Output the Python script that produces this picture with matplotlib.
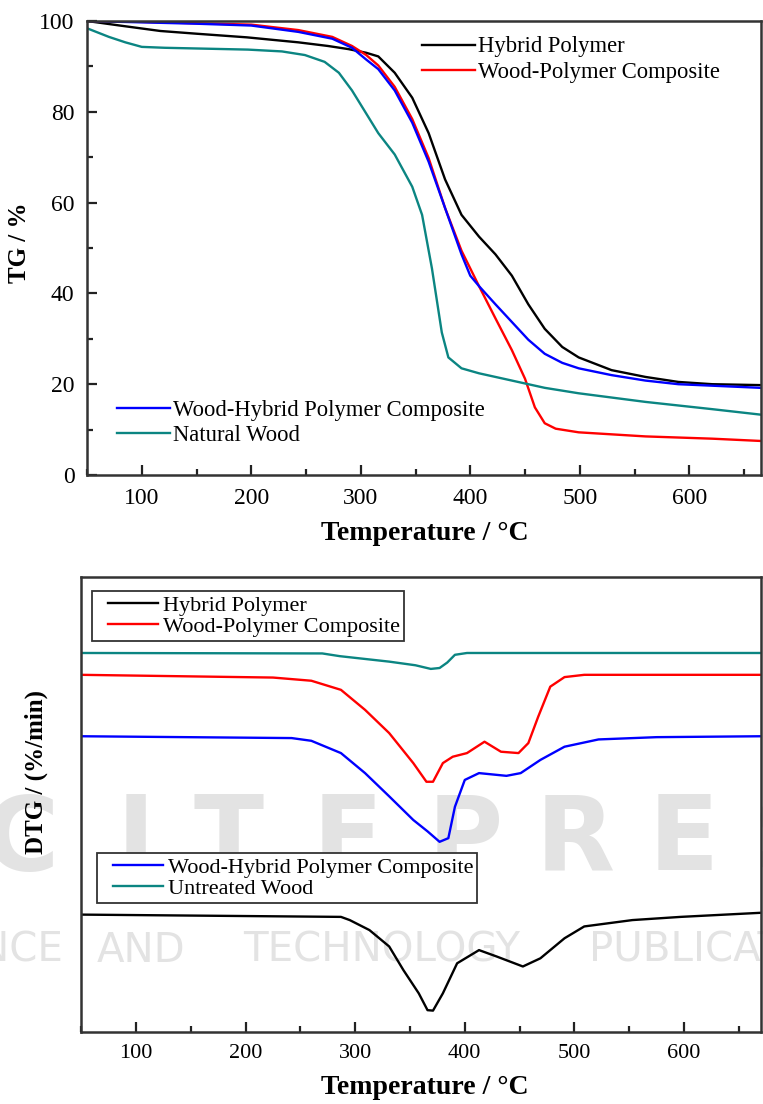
import matplotlib
matplotlib.use('Agg')
import matplotlib.pyplot as plt
from matplotlib.ticker import MultipleLocator
from matplotlib.lines import Line2D
from matplotlib.legend_handler import HandlerLine2D

# ---------------- data: TG (%) ----------------
T_hp = [50, 80, 117, 150, 196, 243, 270, 289, 305, 316, 331, 347, 362, 377, 392,
        408, 423, 438, 453, 468, 484, 499, 529, 560, 590, 621, 665]
TG_hp = [100, 99.0, 97.8, 97.2, 96.4, 95.3, 94.5, 93.8, 93.0, 92.2, 88.6, 83.1, 75.3,
         65.1, 57.3, 52.5, 48.6, 43.9, 37.6, 32.2, 28.2, 25.9, 23.1, 21.6, 20.5, 20.0, 19.8]

T_wpc = [50, 100, 150, 200, 243, 274, 292, 305, 316, 331, 347, 362, 377, 392, 408,
         423, 438, 450, 459, 468, 478, 499, 560, 621, 665]
TG_wpc = [100, 99.8, 99.5, 99.2, 98.0, 96.5, 94.5, 92.5, 90.2, 85.5, 78.4, 69.8, 58.8,
          49.4, 41.6, 34.5, 27.5, 21.2, 14.9, 11.4, 10.2, 9.4, 8.5, 8.0, 7.5]

T_whpc = [50, 100, 150, 200, 243, 274, 292, 305, 316, 331, 347, 362, 377, 392, 400,
          408, 423, 438, 453, 468, 484, 499, 529, 560, 590, 665]
TG_whpc = [100, 99.7, 99.4, 99.0, 97.6, 96.1, 94.1, 91.5, 89.4, 84.7, 77.6, 69.0, 58.8,
           48.6, 43.9, 41.6, 37.6, 33.7, 29.8, 26.7, 24.7, 23.5, 22.0, 20.8, 20.0, 19.2]

T_nw = [50, 70, 85, 100, 121, 197, 228, 249, 267, 280, 292, 304, 316, 331, 347, 356,
        365, 374, 380, 392, 408, 438, 468, 499, 560, 621, 665]
TG_nw = [98.4, 96.5, 95.3, 94.3, 94.1, 93.7, 93.3, 92.5, 91.0, 88.6, 84.7, 80.0, 75.3,
         70.6, 63.5, 57.3, 45.5, 31.4, 25.9, 23.5, 22.4, 20.8, 19.2, 18.0, 16.1, 14.5, 13.3]

# ---------------- data: DTG (arbitrary offset units) ----------------
T_d_hp = [50, 287, 295, 313, 331, 344, 358, 366, 371, 380, 393, 413, 429, 453, 469,
          491, 509, 553, 597, 670]
D_hp = [25.8, 25.3, 24.6, 22.4, 18.8, 13.6, 8.5, 4.8, 4.7, 8.5, 15.1, 18.0, 16.6, 14.4,
        16.2, 20.6, 23.2, 24.6, 25.3, 26.2]

T_d_wpc = [50, 225, 260, 287, 309, 331, 353, 365, 371, 380, 389, 402, 418, 433, 449,
           458, 467, 478, 491, 509, 670]
D_wpc = [78.5, 77.9, 77.2, 75.2, 70.8, 65.7, 59.1, 55.0, 55.0, 59.1, 60.5, 61.3, 63.8,
         61.6, 61.3, 63.5, 69.3, 75.9, 78.0, 78.5, 78.5]

T_d_whpc = [50, 242, 260, 287, 309, 331, 353, 366, 377, 385, 391, 400, 413, 438, 451,
            469, 491, 522, 575, 670]
D_whpc = [65.0, 64.6, 64.0, 61.3, 56.9, 51.8, 46.6, 44.1, 41.8, 42.6, 49.5, 55.4, 56.9,
          56.3, 56.9, 59.8, 62.7, 64.3, 64.8, 65.0]

T_d_uw = [50, 270, 286, 331, 355, 369, 377, 384, 391, 402, 670]
D_uw = [83.3, 83.2, 82.6, 81.4, 80.6, 79.8, 80.0, 81.2, 82.9, 83.3, 83.3]

x_ticks = [100, 200, 300, 400, 500, 600]
tg_ticks = [0, 20, 40, 60, 80, 100]

C_HP, C_WPC, C_WHPC, C_NW = '#000000', '#ff0000', '#0000ff', '#0b8582'
SERIF = 'Liberation Serif'

W, H = 763, 1104
fig = plt.figure(figsize=(W / 100, H / 100), dpi=100)


def rect(l, t, r, b):
    return [l / W, 1 - b / H, (r - l) / W, (b - t) / H]


ax1 = fig.add_axes(rect(87, 21, 761, 475))
ax2 = fig.add_axes(rect(81.2, 577, 760.7, 1032))

for ax in (ax1, ax2):
    for s in ax.spines.values():
        s.set_linewidth(1.8)
        s.set_color('#333333')
    ax.xaxis.set_major_locator(MultipleLocator(100))
    ax.xaxis.set_minor_locator(MultipleLocator(50))
    ax.tick_params(which='both', direction='in', top=False, right=False,
                   width=1.6, color='#222222', labelsize=17, pad=9)
    ax.tick_params(which='major', length=7)
    ax.tick_params(which='minor', length=4)

# ---------------- TG panel ----------------
lw = 1.7
l1, = ax1.plot(T_hp, TG_hp, color=C_HP, lw=lw, label='Hybrid Polymer')
l2, = ax1.plot(T_wpc, TG_wpc, color=C_WPC, lw=lw, label='Wood-Polymer Composite')
l3, = ax1.plot(T_whpc, TG_whpc, color=C_WHPC, lw=lw, label='Wood-Hybrid Polymer Composite')
l4, = ax1.plot(T_nw, TG_nw, color=C_NW, lw=lw, label='Natural Wood')
ax1.set_xlim(50, 665.5)
ax1.set_ylim(0, 100)
ax1.set_xticks(x_ticks)
ax1.set_yticks(tg_ticks)
ax1.yaxis.set_minor_locator(MultipleLocator(10))
for lab in ax1.get_xticklabels() + ax1.get_yticklabels():
    lab.set_fontfamily(SERIF)

leg_kw = dict(frameon=False, prop={'family': SERIF, 'size': 16.3}, handlelength=2.35,
              handletextpad=0.12, labelspacing=0.2, borderpad=0, borderaxespad=0)
lg1 = ax1.legend(handles=[l1, l2], loc='upper left', bbox_to_anchor=(0.497, 0.966), **leg_kw)
ax1.add_artist(lg1)
ax1.legend(handles=[l3, l4], loc='upper left', bbox_to_anchor=(0.044, 0.166), **leg_kw)

fig.text(425 / W, 1 - 533 / H, 'Temperature / °C', ha='center', va='center',
         family=SERIF, weight='bold', fontsize=20)
fig.text(19 / W, 1 - 243 / H, 'TG / %', ha='center', va='center', rotation=90,
         family=SERIF, weight='bold', fontsize=18)

# ---------------- DTG panel ----------------
wm = '#e3e3e3'
for ch, xc in zip('CITEPRES', [22, 136, 228, 348, 465, 575, 684, 790]):
    ax2.text(xc / W, 1 - 842 / H, ch, transform=fig.transFigure, ha='center', va='center',
             color=wm, fontsize=74, family='DejaVu Sans', weight='bold', zorder=0.5,
             clip_on=False)
for word, xx, ha in [('SCIENCE', 63, 'right'), ('AND', 141, 'center'),
                     ('TECHNOLOGY', 382, 'center'), ('PUBLICATIONS', 589, 'left')]:
    ax2.text(xx / W, 1 - 951 / H, word, transform=fig.transFigure, ha=ha, va='center',
             color=wm, fontsize=29, family='DejaVu Sans', zorder=0.5, clip_on=False)

d1, = ax2.plot(T_d_hp, D_hp, color=C_HP, lw=lw, label='Hybrid Polymer', zorder=2)
d2, = ax2.plot(T_d_wpc, D_wpc, color=C_WPC, lw=lw, label='Wood-Polymer Composite', zorder=2)
d3, = ax2.plot(T_d_whpc, D_whpc, color=C_WHPC, lw=lw, label='Wood-Hybrid Polymer Composite', zorder=2)
d4, = ax2.plot(T_d_uw, D_uw, color=C_NW, lw=lw, label='Untreated Wood', zorder=2)
ax2.set_xlim(50, 670)
ax2.set_ylim(0, 100)
ax2.set_xticks(x_ticks)
ax2.set_yticks([])
for lab in ax2.get_xticklabels():
    lab.set_fontfamily(SERIF)
    lab.set_fontsize(16)

fs2 = 16
fs2px = fs2 * 100 / 72
leg2_kw = dict(frameon=True, fancybox=False, edgecolor='#333333', facecolor='white',
               framealpha=1, prop={'family': SERIF, 'size': fs2},
               handlelength=62 / fs2px, handletextpad=5 / fs2px,
               labelspacing=0.04, borderpad=0.18, borderaxespad=0,
               handler_map={Line2D: HandlerLine2D(xpad=12 / fs2px)})
lg3 = ax2.legend(handles=[d1, d2], loc='upper left', bbox_to_anchor=(0.016, 0.969), **leg2_kw)
lg3.get_frame().set_linewidth(1.3)
ax2.add_artist(lg3)
lg4 = ax2.legend(handles=[d3, d4], loc='upper left', bbox_to_anchor=(0.023, 0.393), **leg2_kw)
lg4.get_frame().set_linewidth(1.3)

fig.text(425 / W, 1 - 1088 / H, 'Temperature / °C', ha='center', va='center',
         family=SERIF, weight='bold', fontsize=20)
fig.text(36 / W, 1 - 772 / H, 'DTG / (%/min)', ha='center', va='center', rotation=90,
         family=SERIF, weight='bold', fontsize=18)

fig.savefig('out.png', dpi=100)
